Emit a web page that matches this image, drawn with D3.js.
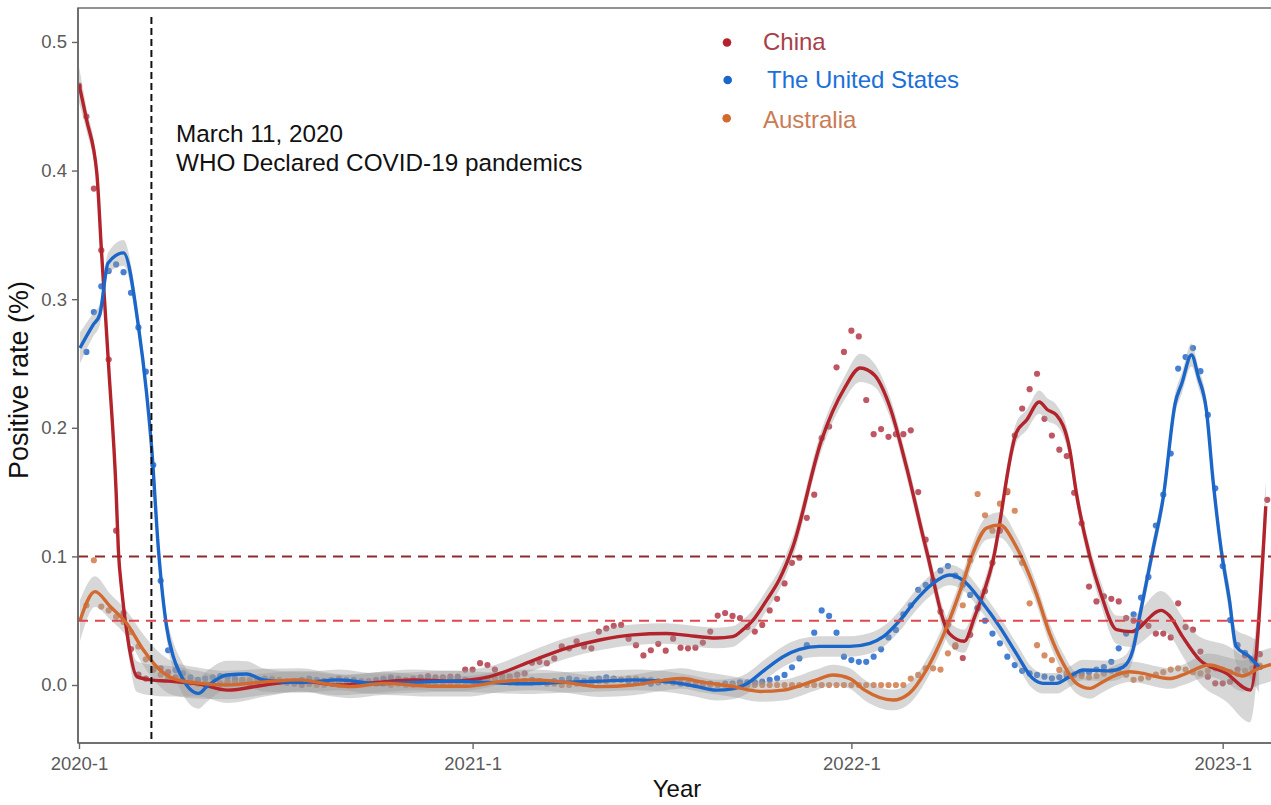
<!DOCTYPE html>
<html>
<head>
<meta charset="utf-8">
<script src="https://cdn.jsdelivr.net/npm/d3@7"></script>
<style>
  body { margin: 0; background: #fff; }
  svg { display: block; }
  text { font-family: "Liberation Sans", Arial, Helvetica, sans-serif; }
</style>
</head>
<body>
<svg id="chart" width="1271" height="805"></svg>
<script>
// Weekly positive rates, week 0 = first week of 2020
const weeks = d3.range(0, 161);

const chinaRate = [
  0.466,0.442,0.386,0.338,0.253,0.12,0.056,0.028,0.008,0.005,0.012,0.013,0.010,
  0.006,0.004,0.003,0.002,0.001,0.000,0.001,0.002,0.003,0.002,
  0.001,0.002,0.003,0.004,0.003,0.002,0.001,0.000,0.001,0.002,
  0.003,0.004,0.005,0.004,0.003,0.002,0.003,0.004,0.005,0.006,
  0.005,0.004,0.005,0.006,0.007,0.006,0.006,
  0.0065,0.0065,0.012,0.012,0.017,0.0155,0.012,0.0065,0.0065,0.008,
  0.009,0.0173,0.018,0.017,0.0207,0.03,0.0285,0.034,0.03,0.0285,
  0.0415,0.044,0.046,0.0467,0.036,0.031,0.023,0.027,0.032,0.0267,
  0.036,0.029,0.0285,0.029,0.033,0.0415,0.054,0.056,0.0537,0.052,
  0.045,0.0415,0.0467,0.058,0.067,0.079,0.095,0.099,0.13,0.148,
  0.192,0.201,0.247,0.259,0.2755,0.271,0.2216,0.195,0.199,0.193,
  0.195,0.195,0.198,0.15,0.113,0.08,0.057,0.047,0.03,0.021,
  0.039,0.06,0.073,0.095,0.12,0.15,0.194,0.215,0.23,0.242,
  0.207,0.194,0.183,0.178,0.1495,0.1257,0.0765,0.065,0.069,0.067,
  0.065,0.052,0.05,0.048,0.046,0.04,0.04,0.037,0.0635,0.045,
  0.043,0.026,0.0065,0.0013,0.0013,0.0026,0.012,0.023,0.02,0.024,
  0.144
];

const usRate = [
  null,
  0.259,0.29,0.31,0.322,0.327,0.321,0.305,0.278,0.2436,0.171,0.081,0.027,0.0117,0.009,0.006,
  0.004,0.005,0.006,0.007,0.006,0.005,0.004,0.003,0.004,0.005,
  0.004,0.003,0.002,0.003,0.004,0.005,0.004,0.003,0.002,0.002,
  0.003,0.004,0.003,0.002,0.003,0.004,0.005,0.004,0.003,0.003,
  0.004,0.005,0.004,0.003,0.004,0.005,0.004,0.003,0.002,0.003,
  0.004,0.003,0.002,0.002,0.003,0.004,0.003,0.002,0.003,0.004,
  0.005,0.004,0.003,0.004,0.005,0.006,0.005,0.004,0.003,0.002,
  0.002,0.001,0.002,0.003,0.002,0.001,0.001,0.000,0.001,0.001,
  0.000,0.001,0.001,0.002,0.002,0.002,
  0.0026,0.004,0.0052,0.0078,0.0138,0.0207,0.031,0.0407,0.058,0.0537,
  0.0407,0.022,0.0194,0.018,0.018,0.022,0.0277,0.037,0.0428,0.055,
  0.062,0.074,0.0778,0.0816,0.0889,0.0925,0.085,0.078,0.07,0.0596,
  0.05,0.04,0.0324,0.022,0.0155,0.011,0.009,0.0078,0.0065,0.0052,
  0.006,0.007,0.008,0.009,0.01,0.012,0.014,0.018,0.0285,0.04,
  0.055,0.068,0.084,0.124,0.148,0.18,0.246,0.255,0.262,0.244,
  0.21,0.153,0.0925,0.0505,0.031,0.025,0.019,0.014,
  null
];

const australiaRate = [
  null,
  0.062,0.097,0.061,0.058,0.053,0.049,0.041,0.03,0.02,0.012,0.008,0.005,
  0.004,0.003,0.002,0.001,0.001,0.000,0.001,0.002,0.002,0.003,
  0.004,0.003,0.004,0.005,0.004,0.003,0.003,0.002,0.001,0.000,
  0.000,0.001,0.000,0.000,0.001,0.002,0.002,0.001,0.001,0.000,
  0.001,0.000,0.000,0.001,0.001,0.000,0.001,0.002,0.002,0.003,
  0.003,0.004,0.004,0.005,0.004,0.004,0.003,0.003,0.002,0.002,
  0.001,0.001,0.000,0.000,0.001,0.001,0.002,0.003,0.003,0.004,
  0.004,0.005,0.005,0.004,0.004,0.003,0.003,0.002,0.002,0.001,
  0.001,0.000,0.000,0.000,0.000,0.000,0.000,0.000,0.000,0.000,
  0.000,0.000,0.000,0.000,0.000,0.000,0.000,0.000,0.000,0.000,0.000,
  0,0,0,0,0,0,0,0,
  0.005,0.0078,0.013,0.013,0.012,0.0246,0.031,0.062,0.097,0.1485,
  0.132,0.12,0.141,0.151,0.1355,0.095,0.0635,0.031,0.023,0.0194,
  0.0117,0.009,0.0078,0.007,0.006,0.007,0.009,0.011,0.01,0.008,
  0.004,0.005,0.006,0.008,0.01,0.012,0.013,0.012,0.01,0.009,
  0.011,0.013,0.012,0.01,0.009,0.011,0.013,0.015,
  null
];

// Smoothed trend: [week, fitted rate, half-width of confidence band]
const chinaFit = [
  [0,0.467,0.014],[1,0.44,0.009],[2.4,0.398,0.008],[3,0.34,0.008],[4,0.247,0.008],
  [5,0.15,0.008],[5.3,0.105,0.008],[5.75,0.074,0.008],[6.6,0.035,0.009],[7.8,0.0065,0.012],
  [9.6,0.004,0.012],[12,0.003,0.012],[16,0.001,0.01],[20,-0.004,0.01],[25,0.0,0.009],
  [30,0.003,0.008],[35,0.0,0.008],[40,0.002,0.008],[45,0.004,0.008],[50,0.003,0.008],
  [55.3,0.0065,0.008],[56.7,0.009,0.008],[61.1,0.019,0.008],[65.6,0.0285,0.008],[70.1,0.035,0.008],
  [74.6,0.039,0.008],[79.1,0.040,0.008],[81.3,0.039,0.008],[85.8,0.0365,0.008],[88,0.0376,0.008],
  [89.4,0.043,0.008],[90.7,0.05,0.008],[92.6,0.066,0.008],[94.3,0.082,0.008],[96.1,0.107,0.008],
  [99.96,0.19,0.008],[103.1,0.231,0.009],[105.2,0.2465,0.011],[107.1,0.241,0.009],[109.2,0.216,0.008],
  [111.4,0.17,0.008],[114.1,0.105,0.008],[117.2,0.040,0.009],[119.2,0.034,0.009],[120.6,0.053,0.008],
  [123,0.095,0.008],[126.2,0.196,0.008],[127.6,0.206,0.008],[129.3,0.22,0.009],[130.4,0.214,0.009],
  [131.6,0.21,0.008],[133.4,0.183,0.008],[134.3,0.149,0.008],[136.1,0.1,0.008],[137.6,0.071,0.009],
  [139.7,0.043,0.011],[141.7,0.0415,0.012],[145.7,0.058,0.015],[146.8,0.054,0.015],[148.6,0.0376,0.015],
  [150.9,0.0195,0.018],[154.5,0.009,0.022],[157.7,-0.004,0.025],[159.8,0.139,0.02]
];

const usFit = [
  [0.13,0.262,0.012],[1.9,0.28,0.009],[2.8,0.288,0.008],[3.9,0.328,0.008],[6,0.336,0.01],
  [8,0.279,0.008],[9.1,0.227,0.008],[9.8,0.183,0.008],[10.7,0.105,0.008],[11.8,0.045,0.009],
  [12.7,0.022,0.011],[13.6,0.009,0.012],[16.1,-0.0065,0.012],[17.2,-0.0013,0.012],[19.9,0.0078,0.011],
  [22.6,0.0085,0.01],[24.8,0.004,0.009],[30,0.002,0.008],[35,0.004,0.008],[40,0.001,0.008],
  [45,0.002,0.008],[50,0.003,0.008],[55,0.002,0.008],[60,0.001,0.008],[65,0.002,0.008],
  [70,0.003,0.008],[75,0.004,0.008],[80,0.002,0.008],[83,-0.001,0.008],[85.8,-0.004,0.008],
  [88,-0.003,0.008],[89.9,0.001,0.008],[92.6,0.013,0.008],[94.8,0.022,0.008],[97,0.0277,0.008],
  [99.7,0.030,0.008],[103.8,0.030,0.008],[106.5,0.0324,0.008],[108.3,0.0376,0.008],[110.5,0.05,0.008],
  [112.7,0.066,0.008],[115,0.079,0.008],[117.2,0.0855,0.008],[119,0.0816,0.008],[121.7,0.0635,0.008],
  [124,0.045,0.008],[126.2,0.0246,0.008],[128.4,0.0052,0.008],[129.8,0.0013,0.008],[131.6,0.0013,0.008],
  [133.4,0.0065,0.008],[135.2,0.0117,0.008],[138.8,0.011,0.008],[140.6,0.014,0.008],[141.9,0.027,0.008],
  [142.8,0.053,0.008],[143.7,0.079,0.008],[144.6,0.105,0.008],[146,0.146,0.008],[147.6,0.219,0.008],
  [148.5,0.2346,0.008],[149.8,0.2566,0.009],[150.7,0.24,0.008],[151.8,0.214,0.008],[152.7,0.159,0.008],
  [153.8,0.105,0.009],[154.9,0.066,0.011],[155.8,0.030,0.013],[157.6,0.022,0.016],[158.9,0.014,0.02]
];

const australiaFit = [
  [0.13,0.05,0.016],[2.15,0.0726,0.012],[4.2,0.061,0.01],[6.4,0.048,0.01],[8.7,0.027,0.012],
  [10.5,0.014,0.013],[12.7,0.005,0.013],[16.3,0.0013,0.012],[19.9,0,0.011],[25.3,0.0026,0.01],
  [29.7,0.004,0.009],[34.2,0,0.009],[36.5,-0.0013,0.009],[41,0.0013,0.009],[47.7,-0.001,0.008],
  [52.2,-0.001,0.008],[56.7,0.0026,0.008],[61.1,0.004,0.008],[65.6,0.002,0.008],[70.1,-0.0013,0.008],
  [74.6,0,0.008],[79.1,0.004,0.008],[81.3,0.005,0.008],[83.6,0.0026,0.008],[88.1,-0.0013,0.008],
  [91.7,-0.005,0.008],[94.8,-0.004,0.008],[99.3,0.004,0.008],[101.5,0.0078,0.008],[103.8,0.005,0.008],
  [105.8,-0.004,0.008],[109.6,-0.0117,0.008],[111.8,-0.0065,0.008],[114.1,0.0117,0.008],[115.9,0.0324,0.008],
  [117.2,0.0505,0.008],[119,0.079,0.008],[120.2,0.1,0.008],[122.2,0.122,0.009],[124,0.1244,0.01],
  [126.2,0.1075,0.009],[128.9,0.0713,0.008],[130.7,0.040,0.008],[132.5,0.0169,0.008],[134.3,0.0013,0.008],
  [136.1,-0.0026,0.008],[137.9,0.0026,0.008],[139.7,0.0078,0.008],[141.5,0.0103,0.008],[143.3,0.009,0.008],
  [145.1,0.0065,0.008],[146.9,0.005,0.008],[148.6,0.0078,0.008],[152.2,0.0155,0.009],[154.5,0.0117,0.01],
  [156.6,0.007,0.012],[158.9,0.013,0.013],[160.5,0.016,0.013]
];

const yearTickWeeks = [0, 53, 104, 154];
const yearTickLabels = ["2020-1", "2021-1", "2022-1", "2023-1"];
const rateTicks = [0, 0.1, 0.2, 0.3, 0.4, 0.5];
const pandemicWeek = 9.75;          // March 11, 2020
const thresholds = [0.1, 0.05];

const series = [
  { name: "China", rates: chinaRate, fit: chinaFit,
    line: "#b3232b", point: "#b33a48", label: "#a8404a" },
  { name: "The United States", rates: usRate, fit: usFit,
    line: "#1b66c9", point: "#2569cc", label: "#1a6fd8" },
  { name: "Australia", rates: australiaRate, fit: australiaFit,
    line: "#d2692f", point: "#d17a4a", label: "#c97c55" }
];

const svg = d3.select("#chart");
const panel = { left: 78, top: 8, bottom: 743, right: 1300 };

const x = d3.scaleLinear().domain([0, 154]).range([79, 1222.7]);
const y = d3.scaleLinear().domain([-0.0451, 0.5264]).range([panel.bottom, panel.top]);

svg.append("defs").append("clipPath").attr("id", "panel-clip")
  .append("rect").attr("x", panel.left).attr("y", panel.top)
  .attr("width", panel.right - panel.left).attr("height", panel.bottom - panel.top);

// Panel frame
svg.append("rect")
  .attr("x", panel.left).attr("y", panel.top)
  .attr("width", panel.right - panel.left).attr("height", panel.bottom - panel.top)
  .attr("fill", "none").attr("stroke", "#777").attr("stroke-width", 1.6);

const plot = svg.append("g").attr("clip-path", "url(#panel-clip)");

// Observed weekly points
series.forEach(s => {
  plot.append("g").selectAll("circle")
    .data(weeks.filter(w => s.rates[w] != null))
    .join("circle")
    .attr("cx", w => x(w))
    .attr("cy", w => y(s.rates[w]))
    .attr("r", 3.1)
    .attr("fill", s.point)
    .attr("fill-opacity", 0.85);
});

// Smoothed trends with confidence bands
const band = d3.area()
  .x(d => x(d[0]))
  .y0(d => y(d[1] - d[2]))
  .y1(d => y(d[1] + d[2]))
  .curve(d3.curveMonotoneX);
const trend = d3.line()
  .x(d => x(d[0]))
  .y(d => y(d[1]))
  .curve(d3.curveMonotoneX);

series.forEach(s => {
  plot.append("path").datum(s.fit)
    .attr("d", band).attr("fill", "#9a9a9a").attr("fill-opacity", 0.4);
});
series.forEach(s => {
  plot.append("path").datum(s.fit)
    .attr("d", trend).attr("fill", "none")
    .attr("stroke", s.line).attr("stroke-width", 3.4)
    .attr("stroke-linejoin", "round");
});

// Threshold lines
const thresholdColors = ["#8e2a2a", "#e0474c"];
thresholds.forEach((t, i) => {
  plot.append("line")
    .attr("x1", panel.left).attr("x2", panel.right)
    .attr("y1", y(t)).attr("y2", y(t))
    .attr("stroke", thresholdColors[i]).attr("stroke-width", 2)
    .attr("stroke-dasharray", "10,7");
});

// Pandemic declaration marker
plot.append("line")
  .attr("x1", x(pandemicWeek)).attr("x2", x(pandemicWeek))
  .attr("y1", 17).attr("y2", panel.bottom)
  .attr("stroke", "#111").attr("stroke-width", 2)
  .attr("stroke-dasharray", "7,4");

// Axes
const yAxis = svg.append("g")
  .attr("transform", `translate(${panel.left},0)`)
  .call(d3.axisLeft(y).tickValues(rateTicks).tickFormat(d3.format(".1f"))
    .tickSize(6).tickPadding(5));
const xAxis = svg.append("g")
  .attr("transform", `translate(0,${panel.bottom})`)
  .call(d3.axisBottom(x).tickValues(yearTickWeeks)
    .tickFormat((d, i) => yearTickLabels[i]).tickSize(6).tickPadding(8));

[yAxis, xAxis].forEach(g => {
  g.select(".domain").remove();
  g.selectAll(".tick line").attr("stroke", "#666").attr("stroke-width", 1.4);
  g.selectAll(".tick text").attr("fill", "#5a5a5a")
    .style("font-size", "18.5px")
    .style("font-family", "'Liberation Sans', Arial, sans-serif");
});
svg.append("line")
  .attr("x1", panel.left).attr("x2", panel.left).attr("y1", panel.top).attr("y2", panel.bottom)
  .attr("stroke", "#666").attr("stroke-width", 1.6);
svg.append("line")
  .attr("x1", panel.left).attr("x2", panel.right).attr("y1", panel.bottom).attr("y2", panel.bottom)
  .attr("stroke", "#666").attr("stroke-width", 1.6);

// Axis titles
svg.append("text")
  .attr("x", 677).attr("y", 797)
  .attr("text-anchor", "middle")
  .style("font-size", "24px").attr("fill", "#111")
  .text("Year");
svg.append("text")
  .attr("transform", "translate(28,380) rotate(-90)")
  .attr("text-anchor", "middle")
  .style("font-size", "27px").attr("fill", "#111")
  .text("Positive rate (%)");

// Annotation
const note = svg.append("text").attr("x", 176).style("font-size", "24.3px").attr("fill", "#111");
note.append("tspan").attr("x", 176).attr("y", 141.5).text("March 11, 2020");
note.append("tspan").attr("x", 176).attr("y", 170.5).text("WHO Declared COVID-19 pandemics");

// Legend
const legendRows = [
  { dotX: 727, dotY: 42.5, textX: 763, textY: 50 },
  { dotX: 727.7, dotY: 80, textX: 767, textY: 88.3 },
  { dotX: 726.7, dotY: 118.3, textX: 763, textY: 128.3 }
];
series.forEach((s, i) => {
  const r = legendRows[i];
  svg.append("circle").attr("cx", r.dotX).attr("cy", r.dotY).attr("r", 4.3).attr("fill", s.line);
  svg.append("text").attr("x", r.textX).attr("y", r.textY)
    .style("font-size", "24px").attr("fill", s.label).text(s.name);
});
</script>
</body>
</html>
